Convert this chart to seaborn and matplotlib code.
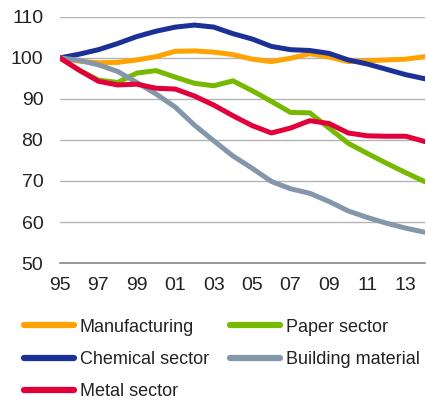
import matplotlib
matplotlib.use("Agg")
import matplotlib.pyplot as plt
import seaborn as sns
import pandas as pd

# index values, 1995 = 100
years = list(range(1995, 2015))
manufacturing = [100, 99.2, 98.8, 98.9, 99.5, 100.3, 101.6, 101.7, 101.4, 100.8,
                 99.7, 99.1, 99.9, 101.0, 100.2, 99.1, 99.3, 99.5, 99.7, 100.3]
paper = [100, 97.0, 94.6, 94.0, 96.3, 96.9, 95.3, 93.8, 93.2, 94.4,
         92.0, 89.4, 86.7, 86.6, 82.9, 79.2, 76.7, 74.3, 72.0, 69.8]
chemical = [100, 100.9, 102.0, 103.5, 105.2, 106.5, 107.5, 108.0, 107.5, 105.9,
            104.6, 102.8, 102.0, 101.8, 101.1, 99.5, 98.5, 97.2, 95.9, 94.9]
building = [100, 99.4, 98.3, 96.7, 94.0, 91.2, 88.0, 83.6, 79.8, 76.1,
            73.1, 69.9, 68.1, 67.0, 65.0, 62.7, 61.1, 59.7, 58.5, 57.5]
metal = [100, 97.0, 94.3, 93.4, 93.6, 92.6, 92.4, 90.7, 88.5, 85.9,
         83.5, 81.7, 82.9, 84.7, 84.0, 81.7, 81.0, 80.9, 80.9, 79.6]

series_names = ["Manufacturing", "Paper sector", "Chemical sector",
                "Building material", "Metal sector"]
series_values = [manufacturing, paper, chemical, building, metal]
colors = ["#FFA300", "#76B900", "#1B3197", "#8497AA", "#E2003B"]
x_ticks = list(range(1995, 2014, 2))
x_tick_labels = [str(y)[-2:] for y in x_ticks]
y_ticks = list(range(50, 111, 10))

df = pd.DataFrame({
    "year": years * len(series_names),
    "value": [v for vals in series_values for v in vals],
    "series": [n for n in series_names for _ in years],
})

sns.set_style("white")
plt.rcParams["font.family"] = ["Liberation Sans", "DejaVu Sans"]
text_color = "#222222"

fig = plt.figure(figsize=(4.27, 4.01), dpi=100)
ax = fig.add_axes([0.1405, 0.344, 0.855, 0.614])

sns.lineplot(data=df, x="year", y="value", hue="series", hue_order=series_names,
             palette=colors, linewidth=3.6, ax=ax, legend=False)

ax.set_xlim(1995, 2014)
ax.set_ylim(50, 110)
ax.set_xticks(x_ticks)
ax.set_xticklabels(x_tick_labels)
ax.set_yticks(y_ticks)
ax.tick_params(axis="both", length=0, labelsize=14, colors=text_color)
ax.tick_params(axis="x", pad=10)
ax.tick_params(axis="y", pad=12)
ax.set_xlabel("")
ax.set_ylabel("")
ax.yaxis.grid(True, color="#b4b4b4", linewidth=1)
ax.set_axisbelow(True)
for side in ["top", "right", "left"]:
    ax.spines[side].set_visible(False)
ax.spines["bottom"].set_color("#888888")
ax.spines["bottom"].set_linewidth(1.2)

# legend: two columns, column-wise fill
lines = ax.get_lines()
handles = {}
for name, line in zip(series_names, lines[:len(series_names)]):
    h = plt.Line2D([], [], color=line.get_color(), linewidth=4.5, solid_capstyle="round")
    handles[name] = h
order = ["Manufacturing", "Chemical sector", "Metal sector", "Paper sector", "Building material"]
fig.legend([handles[n] for n in order], order, loc="upper left",
           bbox_to_anchor=(0.056, 0.205), ncol=2, frameon=False,
           fontsize=13, handlelength=2.75, handletextpad=0.33,
           columnspacing=1.2, labelspacing=0.85, labelcolor=text_color,
           borderaxespad=0, borderpad=0)

fig.savefig("out.png", dpi=100)
